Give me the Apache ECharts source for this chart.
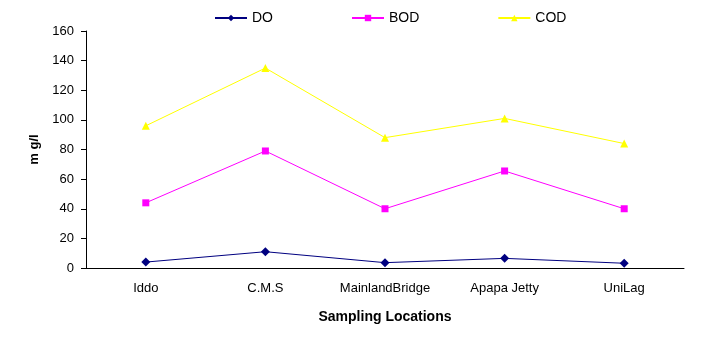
<!DOCTYPE html>
<html>
<head>
    <meta charset="utf-8">
    <script src="https://cdn.jsdelivr.net/npm/echarts@6/dist/echarts.min.js"></script>
</head>
<style>
    *{
        margin:0;
        padding:0;
    }
    body{
        background:#fff;
    }
</style>
<body>
<div id="main" style="width:711px;height:351px;"></div>
<script type="text/javascript">
    // data
    var locations = ["Iddo", "C.M.S", "MainlandBridge", "Apapa Jetty", "UniLag"];
    var doValues = [4, 11, 3.6, 6.5, 3.2];
    var bodValues = [44, 79, 40, 65.5, 40];
    var codValues = [96, 135, 88, 101, 84];

    var chart = echarts.init(document.getElementById("main"));
    var font = "Liberation Sans, Arial, sans-serif";

    var option = {
        backgroundColor: '#ffffff',
        animation: false,
        legend: {
            top: 6,
            left: 209,
            itemWidth: 32,
            itemHeight: 8,
            itemGap: 78,
            textStyle: { fontFamily: font, fontSize: 14, color: '#000' },
            data: ['DO', 'BOD', 'COD']
        },
        grid: {
            left: 86,
            right: 27,
            top: 31,
            bottom: 83
        },
        xAxis: {
            type: 'category',
            data: locations,
            name: 'Sampling Locations',
            nameLocation: 'middle',
            nameGap: 42,
            nameTextStyle: { fontFamily: font, fontSize: 14, fontWeight: 'bold', color: '#000' },
            axisLine: { lineStyle: { color: '#000', width: 1 } },
            axisTick: { length: 5, lineStyle: { color: '#000' } },
            axisLabel: { fontFamily: font, fontSize: 13, color: '#000', margin: 14, interval: 0 }
        },
        yAxis: {
            type: 'value',
            min: 0,
            max: 160,
            interval: 20,
            name: 'm g/l',
            nameLocation: 'middle',
            nameGap: 45,
            nameTextStyle: { fontFamily: font, fontSize: 13, fontWeight: 'bold', color: '#000' },
            axisLine: { show: true, lineStyle: { color: '#000', width: 1 } },
            axisTick: { show: true, length: 5, lineStyle: { color: '#000' } },
            axisLabel: { fontFamily: font, fontSize: 13, color: '#000', margin: 12 },
            splitLine: { show: false }
        },
        series: [{
            name: 'DO',
            type: 'line',
            data: doValues,
            symbol: 'diamond',
            symbolSize: 9,
            color: '#000080',
            lineStyle: { width: 1, color: '#000080' }
        }, {
            name: 'BOD',
            type: 'line',
            data: bodValues,
            symbol: 'rect',
            symbolSize: 7,
            color: '#ff00ff',
            lineStyle: { width: 1, color: '#ff00ff' }
        }, {
            name: 'COD',
            type: 'line',
            data: codValues,
            symbol: 'triangle',
            symbolSize: 8,
            color: '#ffff00',
            lineStyle: { width: 1, color: '#ffff00' }
        }]
    };

    chart.setOption(option);
</script>
</body>
</html>
